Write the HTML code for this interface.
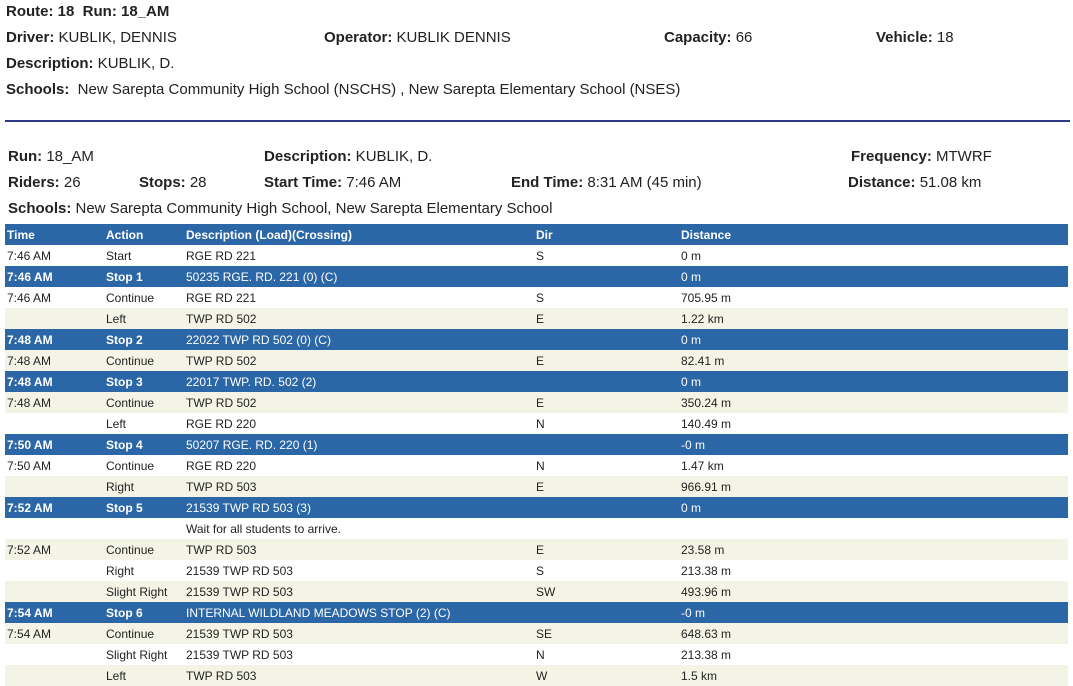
<!DOCTYPE html>
<html><head><meta charset="utf-8"><style>
body{margin:0;background:#fff;font-family:"Liberation Sans",sans-serif;color:#222;}
.l{position:absolute;font-size:15px;white-space:nowrap;}
.l b{font-weight:bold;}
table{position:absolute;left:5px;top:224px;width:1063px;border-collapse:collapse;font-size:12px;}
td,th{height:21px;padding:0 0 0 2px;text-align:left;white-space:nowrap;}
th{background:#2b67a6;color:#fff;font-weight:bold;}
tr.s td{background:#2b67a6;color:#fff;}
tr.s td:nth-child(1),tr.s td:nth-child(2){font-weight:bold;}
tr.b td{background:#f4f4e6;}
</style></head><body>
<div class="l" style="left:6px;top:3px"><b>Route: 18&nbsp; Run: 18_AM</b></div>
<div class="l" style="left:6px;top:29px"><b>Driver:</b> KUBLIK, DENNIS</div>
<div class="l" style="left:324px;top:29px"><b>Operator:</b> KUBLIK DENNIS</div>
<div class="l" style="left:664px;top:29px"><b>Capacity:</b> 66</div>
<div class="l" style="left:876px;top:29px"><b>Vehicle:</b> 18</div>
<div class="l" style="left:6px;top:55px"><b>Description:</b> KUBLIK, D.</div>
<div class="l" style="left:6px;top:81px"><b>Schools:</b>&nbsp; New Sarepta Community High School (NSCHS) , New Sarepta Elementary School (NSES)</div>
<div style="position:absolute;left:5px;top:120px;width:1065px;height:2px;background:#2e3a87"></div>
<div class="l" style="left:8px;top:148px"><b>Run:</b> 18_AM</div>
<div class="l" style="left:264px;top:148px"><b>Description:</b> KUBLIK, D.</div>
<div class="l" style="left:851px;top:148px"><b>Frequency:</b> MTWRF</div>
<div class="l" style="left:8px;top:174px"><b>Riders:</b> 26</div>
<div class="l" style="left:139px;top:174px"><b>Stops:</b> 28</div>
<div class="l" style="left:264px;top:174px"><b>Start Time:</b> 7:46 AM</div>
<div class="l" style="left:511px;top:174px"><b>End Time:</b> 8:31 AM (45 min)</div>
<div class="l" style="left:848px;top:174px"><b>Distance:</b> 51.08 km</div>
<div class="l" style="left:8px;top:200px"><b>Schools:</b> New Sarepta Community High School, New Sarepta Elementary School</div>
<table>
<colgroup><col style="width:99px"><col style="width:80px"><col style="width:350px"><col style="width:145px"><col></colgroup>
<tr><th>Time</th><th>Action</th><th>Description (Load)(Crossing)</th><th>Dir</th><th>Distance</th></tr>
<tr><td>7:46 AM</td><td>Start</td><td>RGE RD 221</td><td>S</td><td>0 m</td></tr>
<tr class="s"><td>7:46 AM</td><td>Stop 1</td><td>50235 RGE. RD. 221 (0) (C)</td><td></td><td>0 m</td></tr>
<tr><td>7:46 AM</td><td>Continue</td><td>RGE RD 221</td><td>S</td><td>705.95 m</td></tr>
<tr class="b"><td></td><td>Left</td><td>TWP RD 502</td><td>E</td><td>1.22 km</td></tr>
<tr class="s"><td>7:48 AM</td><td>Stop 2</td><td>22022 TWP RD 502 (0) (C)</td><td></td><td>0 m</td></tr>
<tr class="b"><td>7:48 AM</td><td>Continue</td><td>TWP RD 502</td><td>E</td><td>82.41 m</td></tr>
<tr class="s"><td>7:48 AM</td><td>Stop 3</td><td>22017 TWP. RD. 502 (2)</td><td></td><td>0 m</td></tr>
<tr class="b"><td>7:48 AM</td><td>Continue</td><td>TWP RD 502</td><td>E</td><td>350.24 m</td></tr>
<tr><td></td><td>Left</td><td>RGE RD 220</td><td>N</td><td>140.49 m</td></tr>
<tr class="s"><td>7:50 AM</td><td>Stop 4</td><td>50207 RGE. RD. 220 (1)</td><td></td><td>-0 m</td></tr>
<tr><td>7:50 AM</td><td>Continue</td><td>RGE RD 220</td><td>N</td><td>1.47 km</td></tr>
<tr class="b"><td></td><td>Right</td><td>TWP RD 503</td><td>E</td><td>966.91 m</td></tr>
<tr class="s"><td>7:52 AM</td><td>Stop 5</td><td>21539 TWP RD 503 (3)</td><td></td><td>0 m</td></tr>
<tr><td></td><td></td><td>Wait for all students to arrive.</td><td></td><td></td></tr>
<tr class="b"><td>7:52 AM</td><td>Continue</td><td>TWP RD 503</td><td>E</td><td>23.58 m</td></tr>
<tr><td></td><td>Right</td><td>21539 TWP RD 503</td><td>S</td><td>213.38 m</td></tr>
<tr class="b"><td></td><td>Slight Right</td><td>21539 TWP RD 503</td><td>SW</td><td>493.96 m</td></tr>
<tr class="s"><td>7:54 AM</td><td>Stop 6</td><td>INTERNAL WILDLAND MEADOWS STOP (2) (C)</td><td></td><td>-0 m</td></tr>
<tr class="b"><td>7:54 AM</td><td>Continue</td><td>21539 TWP RD 503</td><td>SE</td><td>648.63 m</td></tr>
<tr><td></td><td>Slight Right</td><td>21539 TWP RD 503</td><td>N</td><td>213.38 m</td></tr>
<tr class="b"><td></td><td>Left</td><td>TWP RD 503</td><td>W</td><td>1.5 km</td></tr>
</table>
</body></html>
